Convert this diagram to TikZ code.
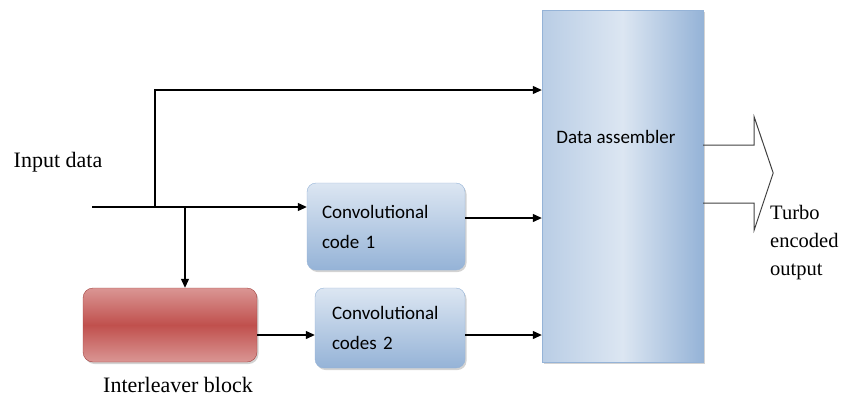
\documentclass[tikz,border=0pt]{standalone}
\usepackage{fontspec}
\setmainfont{Liberation Serif}
\newfontfamily\calibri{Carlito}
\usetikzlibrary{arrows.meta,shadows}

\definecolor{bleuclair}{HTML}{DCE6F2}
\definecolor{bleumoyen}{HTML}{B9CDE5}
\definecolor{bleufonce}{HTML}{95B3D7}
\definecolor{rougeclair}{HTML}{DA9694}
\definecolor{rougefonce}{HTML}{C0504D}

\tikzset{
  fleche/.style={line width=1.2pt, -{Triangle[length=9pt,width=8pt]}},
  ombre/.style={drop shadow={shadow xshift=1.5pt, shadow yshift=-2pt, opacity=0.35}},
  conv/.style={ombre, rounded corners=9pt, draw=bleufonce, top color=bleuclair,
    bottom color=bleufonce, align=left, inner sep=0pt,
    font=\calibri\fontsize{19}{30}\selectfont},
  texte/.style={font=\fontsize{22}{28}\selectfont, inner sep=0pt},
}

\begin{document}
\begin{tikzpicture}[x=1pt,y=-1pt]
\useasboundingbox (0,0) rectangle (845,399);

% Blocs
\node[ombre, draw=bleufonce, left color=bleumoyen, right color=bleufonce,
  middle color=bleuclair, minimum width=161pt, minimum height=352pt] (asm) at (622.5,186) {};
\node[font=\calibri\fontsize{19}{23}\selectfont] (asmtxt) at (616,137) {Data assembler};

\node[conv, minimum width=158pt, minimum height=87pt, text width=128pt] (conv1) at (386,226.5)
  {Convolutional\\code 1};
\node[conv, minimum width=150pt, minimum height=80pt, text width=116pt] (conv2) at (390,328)
  {Convolutional\\codes 2};

\node[ombre, rounded corners=10pt, draw=rougefonce!85!black, top color=rougeclair,
  bottom color=rougeclair, middle color=rougefonce, minimum width=174pt,
  minimum height=74pt] (ilv) at (170,325) {};

% Textes
\node[texte] (intxt) at (58,162) {Input data};
\node[texte] (ilvtxt) at (178,385) {Interleaver block};
\node[texte, anchor=north west, align=left, font=\fontsize{20.5}{28}\selectfont]
  (outtxt) at (770,205) {Turbo\\encoded\\output};

% Points de branchement
\coordinate (in) at (92,207);
\coordinate (b1) at (155,207);
\coordinate (b2) at (185,207);
\coordinate (haut) at (155,90);
\coordinate (s1) at ([yshift=8.5pt]conv1.east);
\coordinate (s2) at ([yshift=-10pt]ilv.east);
\coordinate (s3) at ([yshift=-7pt]conv2.east);

% Liaisons
\draw[fleche] (in) -- (in -| conv1.west);
\draw[fleche] (b1) -- (haut) -- (haut -| asm.west);
\draw[fleche] (b2) -- (b2 |- ilv.north);
\draw[fleche] (s1) -- (s1 -| asm.west);
\draw[fleche] (s2) -- (s2 -| conv2.west);
\draw[fleche] (s3) -- (s3 -| asm.west);

% Fleche de sortie
\coordinate (o1) at ([yshift=41pt]asm.east);
\coordinate (o2) at ([yshift=-17pt]asm.east);
\draw[line width=1pt, black!75] (o1) -- ++(51,0) -- ++(0,-28) -- ++(19,56)
  -- ++(-19,57) -- ++(0,-27) -- (o2);

\end{tikzpicture}
\end{document}
